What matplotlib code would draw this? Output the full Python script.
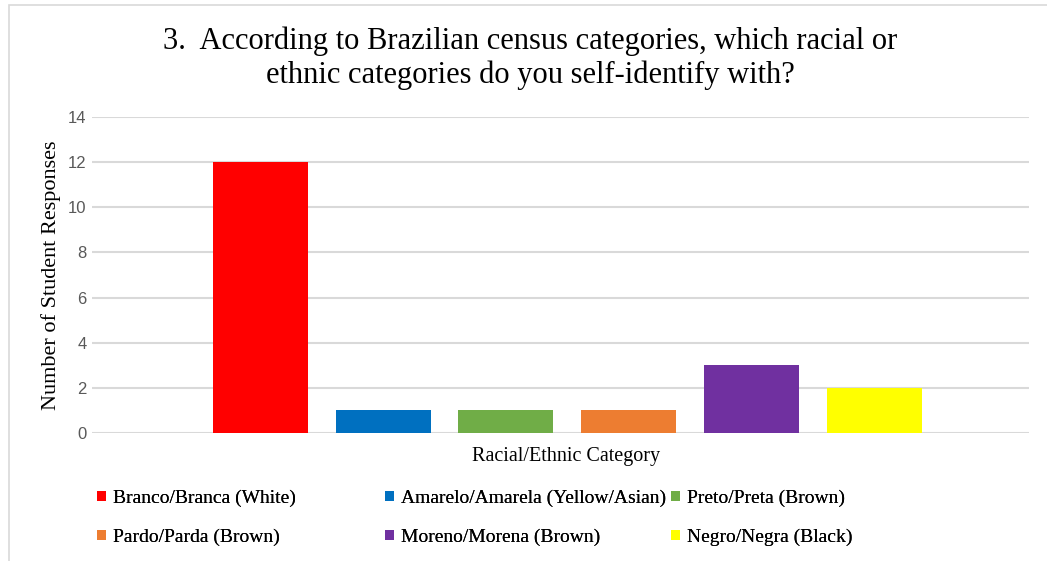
import matplotlib
matplotlib.use("Agg")
import matplotlib.pyplot as plt
import numpy as np
from matplotlib.patches import Rectangle

# data
categories = ["Branco/Branca (White)", "Amarelo/Amarela (Yellow/Asian)", "Preto/Preta (Brown)",
              "Pardo/Parda (Brown)", "Moreno/Morena (Brown)", "Negro/Negra (Black)"]
responses = [12, 1, 1, 1, 3, 2]
colors = ["#FF0000", "#0070C0", "#70AD47", "#ED7D31", "#7030A0", "#FFFF00"]
yticks = [0, 2, 4, 6, 8, 10, 12, 14]

serif = "Liberation Serif"

fig = plt.figure(figsize=(10.47, 5.61), dpi=100)
fig.patches.append(Rectangle((9 / 1047, -0.1), 1.2, 1 - 5 / 561 + 0.1, transform=fig.transFigure,
                             fill=False, edgecolor="#D9D9D9", linewidth=1.2))

ax = fig.add_axes([92 / 1047, 1 - 433 / 561, (1029 - 92) / 1047, (433 - 117) / 561])
x = np.arange(len(categories))
bars = ax.bar(x, responses, width=0.774, color=colors, zorder=3)

ax.set_xlim(-1.373, 6.263)
ax.set_ylim(0, 14)
ax.set_yticks(yticks)
ax.set_xticks([])
ax.grid(axis="y", color="#D9D9D9", linewidth=1.5, zorder=0)
for s in ax.spines.values():
    s.set_visible(False)
ax.tick_params(axis="y", length=0, pad=4, labelsize=12, labelcolor="#595959")
for lbl in ax.get_yticklabels():
    lbl.set_fontfamily("Liberation Sans")

ax.set_ylabel("Number of Student Responses", fontfamily=serif, fontsize=16, labelpad=5)
ax.set_xlabel("Racial/Ethnic Category", fontfamily=serif, fontsize=14.5, labelpad=9)
ax.xaxis.set_label_coords(0.506, -0.045, transform=ax.transAxes)
ax.xaxis.label.set_va("top")

fig.text(530 / 1047, 1 - 58.5 / 561,
         "3.  According to Brazilian census categories, which racial or\nethnic categories do you self-identify with?",
         ha="center", va="center", fontfamily=serif, fontsize=22, linespacing=1.2)

# legend laid out as three columns with equal spacing
col_x = [89, 377, 663]
for c in range(3):
    idx = [c, c + 3]
    leg = fig.legend([bars[i] for i in idx], [categories[i] for i in idx],
                     loc="upper left", bbox_to_anchor=(col_x[c] / 1047, 1 - 482 / 561),
                     frameon=False, prop={"family": serif, "size": 14},
                     handlelength=0.45, handleheight=0.45, handletextpad=0.4,
                     labelspacing=1.1, borderaxespad=0)
    fig.add_artist(leg)

fig.savefig("out.png", dpi=100)
